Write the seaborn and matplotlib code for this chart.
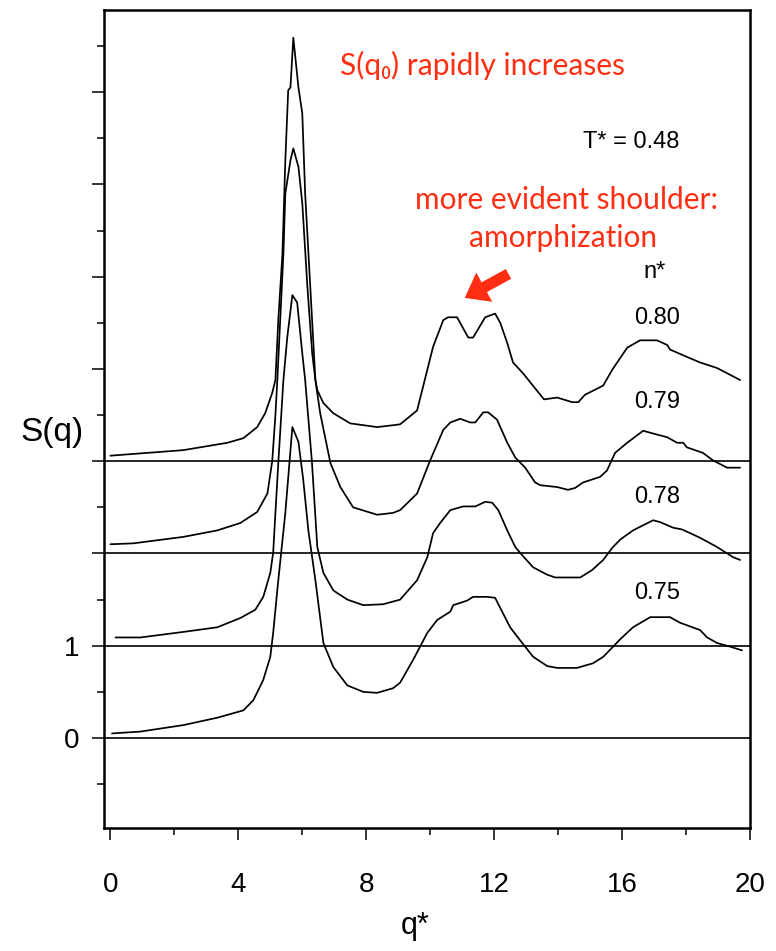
import numpy as np
import pandas as pd
import seaborn as sns
import matplotlib.pyplot as plt
from matplotlib.patches import FancyArrowPatch
from matplotlib.ticker import FixedLocator, MultipleLocator

# structure factor curves, one per density n*
densities = ["0.75", "0.78", "0.79", "0.80"]
offsets = [0, 1, 2, 3]

q_075 = [0.05, 0.94, 2.28, 3.34, 4.16, 4.47, 4.78, 5.0, 5.09, 5.25, 5.47, 5.69, 5.88, 6.03,
         6.19, 6.41, 6.66, 6.97, 7.41, 7.91, 8.34, 8.84, 9.06, 9.47, 9.91, 10.22, 10.63, 10.72,
         11.16, 11.34, 11.78, 12.03, 12.19, 12.5, 12.81, 13.22, 13.66, 13.97, 14.59, 15.09,
         15.41, 15.72, 15.94, 16.34, 16.88, 17.5, 17.81, 18.44, 18.66, 18.97, 19.38, 19.75]
s_075 = [0.05, 0.07, 0.14, 0.22, 0.30, 0.41, 0.63, 0.88, 1.14, 1.71, 2.44, 3.37, 3.21, 2.80,
         2.25, 1.71, 1.03, 0.77, 0.57, 0.50, 0.49, 0.54, 0.60, 0.85, 1.14, 1.28, 1.37, 1.44,
         1.49, 1.53, 1.53, 1.52, 1.41, 1.20, 1.06, 0.88, 0.78, 0.76, 0.76, 0.81,
         0.88, 0.99, 1.07, 1.20, 1.31, 1.31, 1.25, 1.17, 1.09, 1.03, 0.99, 0.95]

q_078 = [0.16, 0.94, 2.28, 3.34, 4.06, 4.53, 4.78, 5.0, 5.09, 5.16, 5.25, 5.41, 5.53, 5.69,
         5.84, 6.0, 6.09, 6.3, 6.47, 6.66, 6.97, 7.41, 7.91, 8.53, 9.06, 9.59, 9.91, 10.09,
         10.31, 10.63, 11.03, 11.41, 11.72, 11.94, 12.13, 12.41, 12.66, 12.88, 13.22, 13.66,
         13.91, 14.69, 15.06, 15.41, 15.69, 15.94, 16.34, 16.97, 17.19, 17.59, 17.88, 18.44,
         18.97, 19.47, 19.69]
s_078 = [0.09, 0.09, 0.15, 0.20, 0.30, 0.39, 0.53, 0.79, 1.01, 1.44, 1.98, 2.88, 3.34, 3.80,
         3.72, 3.17, 2.88, 2.00, 1.07, 0.79, 0.60, 0.50, 0.44, 0.45, 0.50, 0.71, 0.96, 1.22,
         1.33, 1.47, 1.51, 1.51, 1.56, 1.55, 1.47, 1.25, 1.07, 0.98, 0.85, 0.77,
         0.74, 0.74, 0.82, 0.93, 1.06, 1.15, 1.25, 1.36, 1.34, 1.28, 1.26, 1.17,
         1.07, 0.96, 0.93]

q_079 = [0.0, 0.72, 2.28, 3.34, 4.06, 4.59, 4.91, 5.06, 5.16, 5.22, 5.31, 5.41, 5.47, 5.63,
         5.72, 5.88, 6.0, 6.16, 6.31, 6.41, 6.56, 6.88, 7.19, 7.59, 8.34, 8.84, 9.06, 9.59,
         10.0, 10.41, 10.63, 10.94, 11.25, 11.41, 11.66, 11.81, 12.09, 12.41, 12.66, 12.97,
         13.28, 13.44, 13.97, 14.31, 14.53, 14.78, 15.31, 15.53, 15.78, 16.16, 16.66, 16.97,
         17.41, 17.72, 17.91, 18.03, 18.53, 18.84, 19.28, 19.69]
s_079 = [0.10, 0.11, 0.18, 0.25, 0.33, 0.45, 0.65, 1.00, 1.50, 1.88, 2.53, 3.25, 3.90, 4.26,
         4.39, 4.19, 3.80, 2.89, 2.17, 1.88, 1.52, 0.98, 0.72, 0.50, 0.42, 0.44, 0.47, 0.65,
         1.01, 1.34, 1.42, 1.46, 1.42, 1.42, 1.53, 1.53, 1.45, 1.20, 1.04, 0.93,
         0.77, 0.74, 0.72, 0.69, 0.71, 0.77, 0.83, 0.90, 1.09, 1.20, 1.33, 1.30,
         1.26, 1.20, 1.20, 1.15, 1.09, 1.01, 0.93, 0.93]

q_080 = [0.0, 2.28, 3.66, 4.16, 4.59, 4.84, 5.06, 5.16, 5.25, 5.38, 5.47, 5.56, 5.63, 5.72,
         5.88, 6.0, 6.09, 6.25, 6.41, 6.47, 6.66, 6.97, 7.5, 8.34, 8.84, 9.06, 9.59, 10.09,
         10.41, 10.56, 10.84, 11.19, 11.34, 11.72, 12.03, 12.19, 12.41, 12.59, 12.91, 13.28,
         13.56, 13.97, 14.44, 14.63, 14.84, 15.41, 15.69, 16.16, 16.56, 17.09, 17.41, 17.5,
         18.03, 18.44, 18.97, 19.69]
s_080 = [0.06, 0.12, 0.20, 0.25, 0.37, 0.52, 0.74, 0.88, 1.53, 2.25, 3.26, 4.02, 4.05, 4.59,
         4.05, 3.77, 2.90, 1.89, 0.88, 0.77, 0.63, 0.52, 0.41, 0.37, 0.39, 0.40, 0.55, 1.24,
         1.53, 1.56, 1.56, 1.34, 1.34, 1.56, 1.60, 1.50, 1.28, 1.07, 0.95, 0.79,
         0.67, 0.69, 0.64, 0.64, 0.72, 0.82, 0.99, 1.23, 1.31, 1.31, 1.26, 1.21,
         1.13, 1.07, 1.01, 0.88]

q_lists = [q_075, q_078, q_079, q_080]
s_lists = [s_075, s_078, s_079, s_080]

RED = "#FF2E12"

frames = []
for n, off, q, s in zip(densities, offsets, q_lists, s_lists):
    frames.append(pd.DataFrame({"q": q, "S": np.array(s) + off, "n": n}))
df = pd.concat(frames, ignore_index=True)

sns.set_style("ticks")
plt.rcParams["font.family"] = ["Liberation Sans", "DejaVu Sans"]
plt.rcParams["text.color"] = "black"
plt.rcParams["xtick.color"] = "black"
plt.rcParams["ytick.color"] = "black"
plt.rcParams["axes.edgecolor"] = "black"

fig = plt.figure(figsize=(7.76, 9.51), dpi=100)
ax = fig.add_axes([104 / 776, 1 - 828 / 951, 646 / 776, 818 / 951])

for off in offsets:
    ax.axhline(off, color="black", lw=1.2, zorder=1)

sns.lineplot(data=df, x="q", y="S", units="n", estimator=None, sort=False,
             color="black", lw=1.25, legend=False, ax=ax)

ax.set_xlim(-0.2, 20)
ax.set_ylim(-0.975, 7.89)

ax.xaxis.set_major_locator(FixedLocator([0, 4, 8, 12, 16, 20]))
ax.xaxis.set_minor_locator(FixedLocator([2, 6, 10, 14, 18]))
ax.yaxis.set_major_locator(FixedLocator(list(range(0, 8))))
ax.yaxis.set_minor_locator(MultipleLocator(0.5))
ax.set_yticklabels(["0", "1", "", "", "", "", "", ""])

ax.tick_params(axis="both", which="major", direction="out", length=8.5, width=1.1,
               labelsize=20, color="black", labelcolor="black")
ax.tick_params(axis="both", which="minor", direction="out", length=5, width=1.1, color="black")
ax.tick_params(axis="x", which="major", pad=23)
ax.tick_params(axis="y", which="major", pad=9)

for sp in ax.spines.values():
    sp.set_visible(True)
    sp.set_linewidth(1.8)
    sp.set_color("black")

ax.set_xlabel("")
ax.set_ylabel("")
fig.text(52 / 776, 1 - 432 / 951, "S(q)", fontsize=24, ha="center", va="center")
fig.text(415 / 776, 1 - 926 / 951, "q*", fontsize=22, ha="center", va="center")

# annotations
red_font = ["Lato", "DejaVu Sans"]
ax.text(11.63, 7.29, "S(q\u2080) rapidly increases", color=RED, fontsize=21.5,
        family=red_font, ha="center", va="center")
ax.text(16.28, 6.46, "T* = 0.48", fontsize=17, ha="center", va="center")
ax.text(14.25, 5.83, "more evident shoulder:", color=RED, fontsize=21.5,
        family=red_font, ha="center", va="center")
ax.text(14.16, 5.42, "amorphization", color=RED, fontsize=21.5,
        family=red_font, ha="center", va="center")
ax.text(17.03, 5.05, "n*", fontsize=17, ha="center", va="center")

label_y = [1.57, 2.61, 3.64, 4.55]
for n, yy in zip(densities, label_y):
    ax.text(17.09, yy, n, fontsize=17, ha="center", va="center")

arrow = FancyArrowPatch((12.45, 5.03), (11.08, 4.77),
                        arrowstyle="simple,head_length=16,head_width=24,tail_width=8",
                        mutation_scale=1, color=RED, lw=0, shrinkA=0, shrinkB=0)
ax.add_patch(arrow)

fig.savefig("out.png", dpi=100)
